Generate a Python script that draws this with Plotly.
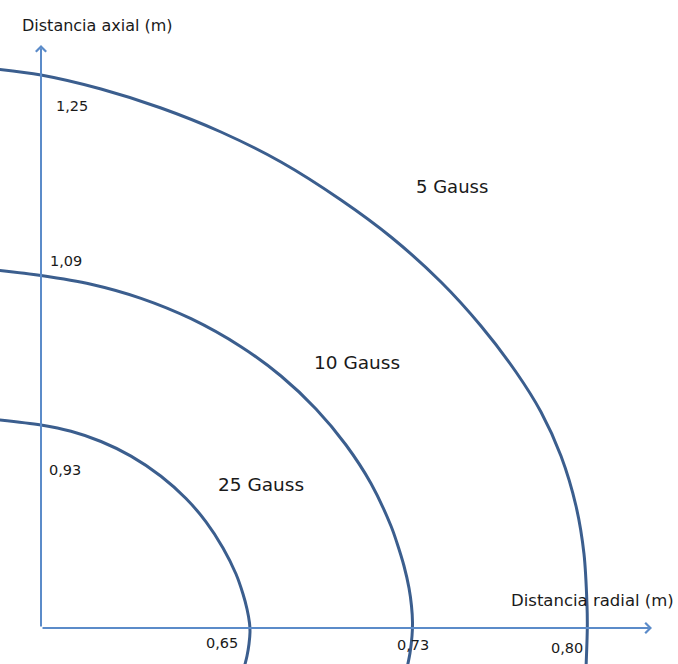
import plotly.graph_objects as go

# Iso-field contours around the magnet, traced as (radial, axial) outlines
# in drawing units measured from the axes' origin.
contour_labels = ["5 Gauss", "10 Gauss", "25 Gauss"]

radial_5g = [-45, 0, 60, 120, 180, 240, 300, 350, 400, 440, 475, 500, 520, 535, 543, 546, 546.3, 545]
axial_5g = [559, 553, 539, 520, 496, 466, 428, 391, 346, 302, 256, 216, 172, 122, 74, 23, 0, -40]

radial_10g = [-45, 0, 50, 100, 150, 200, 240, 275, 305, 330, 350, 356, 363, 368, 370.5, 371.5, 371, 369, 366]
axial_10g = [358, 352.5, 343.8, 329.7, 309.3, 281.3, 252, 219, 183, 144.5, 102, 85, 62, 40, 22, 6, -8, -25, -40]

radial_25g = [-45, 0, 30, 60, 90, 120, 145, 165, 182, 195, 202, 206, 208.5, 209, 208, 206, 203]
axial_25g = [208.5, 203, 196.7, 186.5, 171.9, 151.8, 129.5, 106.2, 80.1, 54, 34, 19, 5, -4, -16, -28, -40]

# Distances (m) where each contour crosses the axes
radial_m = [0.65, 0.73, 0.80]
axial_m = [0.93, 1.09, 1.25]

axis_title_x = "Distancia radial (m)"
axis_title_y = "Distancia axial (m)"


def fmt(v):
    return f"{v:.2f}".replace(".", ",")


CURVE = "#3b5e8e"
AXIS = "#5b8bc9"
TEXT = "#1a1a1a"
FONT = "DejaVu Sans"

fig = go.Figure()
for rx, ay in [(radial_5g, axial_5g), (radial_10g, axial_10g), (radial_25g, axial_25g)]:
    fig.add_trace(go.Scatter(
        x=rx, y=ay, mode="lines",
        line=dict(color=CURVE, width=3, shape="spline", smoothing=0.9),
        hoverinfo="skip", showlegend=False,
    ))

annotations = []

# Axes drawn as arrows from the origin
annotations.append(dict(x=0, y=583, ax=0, ay=0, xref="x", yref="y", axref="x", ayref="y",
                        text="", showarrow=True, arrowhead=4, arrowsize=1,
                        arrowwidth=2, arrowcolor=AXIS))
annotations.append(dict(x=611, y=0, ax=0, ay=0, xref="x", yref="y", axref="x", ayref="y",
                        text="", showarrow=True, arrowhead=4, arrowsize=1,
                        arrowwidth=2, arrowcolor=AXIS))


def label(txt, x, y, size):
    annotations.append(dict(x=x, y=y, xref="x", yref="y", text=txt, showarrow=False,
                            xanchor="left", yanchor="middle",
                            font=dict(family=FONT, size=size, color=TEXT)))


label(axis_title_y, -21, 603, 16)
label(axis_title_x, 468, 28, 16.5)

# Axial crossing values (top to bottom: 5, 10, 25 Gauss)
label(fmt(axial_m[2]), 13, 522, 14.5)
label(fmt(axial_m[1]), 7, 367, 14.5)
label(fmt(axial_m[0]), 6, 158, 14.5)

# Radial crossing values (left to right: 25, 10, 5 Gauss)
label(fmt(radial_m[0]), 163, -15, 14.5)
label(fmt(radial_m[1]), 354, -17, 14.5)
label(fmt(radial_m[2]), 508, -20, 14.5)

# Contour names
label(contour_labels[0], 373, 442, 18)
label(contour_labels[1], 271, 266, 18.5)
label(contour_labels[2], 175, 144, 18.5)

fig.update_layout(
    width=678, height=664,
    margin=dict(l=0, r=0, t=0, b=0),
    paper_bgcolor="white", plot_bgcolor="white",
    xaxis=dict(range=[-41, 637], visible=False, fixedrange=True),
    yaxis=dict(range=[-36, 628], visible=False, fixedrange=True),
    annotations=annotations,
    showlegend=False,
)

fig.write_html("out.html")
